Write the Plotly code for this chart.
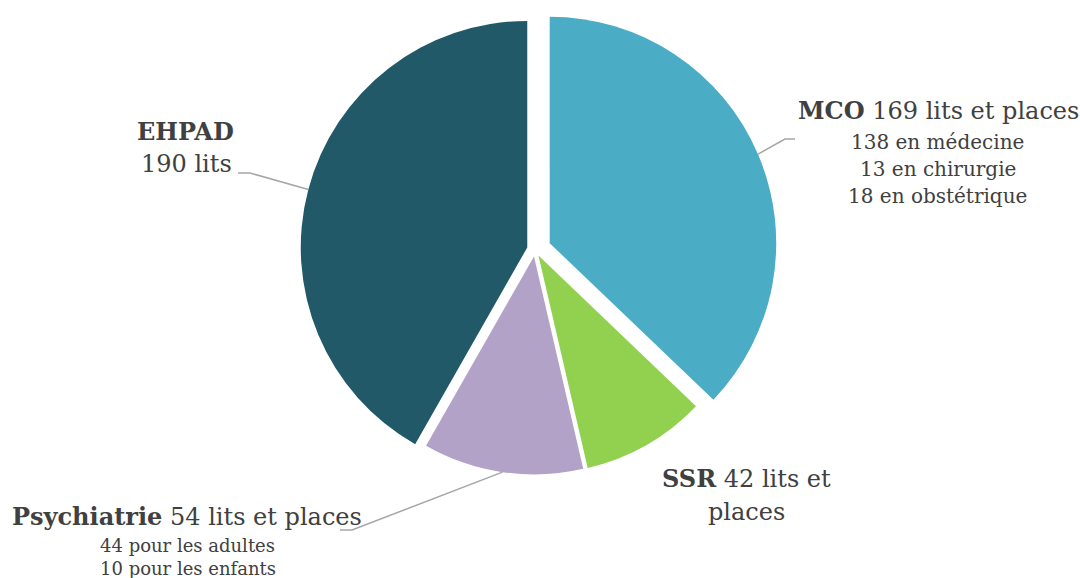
import math
import plotly.graph_objects as go

# ---------------- data ----------------
categories = ["MCO", "SSR", "Psychiatrie", "EHPAD"]
beds = [169, 42, 54, 190]
units = ["lits et places", "lits et places", "lits et places", "lits"]
mco_detail_values = [138, 13, 18]
mco_detail_labels = ["en médecine", "en chirurgie", "en obstétrique"]
psy_detail_values = [44, 10]
psy_detail_labels = ["pour les adultes", "pour les enfants"]

# ---------------- style / layout ----------------
colors = ["#4BACC6", "#92D050", "#B3A2C7", "#215968"]
W, H = 1080, 578
CX, CY = 535.0, 249.5
radius_px = [226.5, 218.0, 218.0, 226.5]
pull_px = [16, 7, 7, 8]
TEXT = "#404040"
FONT = "DejaVu Serif"
LINE = "#A6A6A6"

total = sum(beds)
mids = []
acc = 0
for v in beds:
    mids.append((acc + v / 2) / total * 2 * math.pi)
    acc += v

fig = go.Figure()
groups = [[0, 3], [1, 2]]
for g in groups:
    R = radius_px[g[0]]
    pulls = [pull_px[i] / R if i in g else 0 for i in range(len(beds))]
    cols = [colors[i] if i in g else "rgba(0,0,0,0)" for i in range(len(beds))]
    half = R * (1 + max(pulls))
    fig.add_trace(go.Pie(
        labels=categories, values=beds, sort=False, direction="clockwise",
        rotation=0, pull=pulls,
        marker=dict(colors=cols, line=dict(width=0)),
        textinfo="none", hoverinfo="label+value", showlegend=False,
        domain=dict(x=[(CX - half) / W, (CX + half) / W],
                    y=[1 - (CY + half) / H, 1 - (CY - half) / H]),
    ))


def px2paper(x, y):
    return x / W, 1 - y / H


def anchor(i):
    th = mids[i]
    d = pull_px[i] + radius_px[i]
    return CX + d * math.sin(th), CY - d * math.cos(th)


# leader lines (anchor at slice middle, elbow + horizontal tail)
leaders = {0: [(785, 139), (795, 139)], 3: [(250, 173), (238, 173)], 2: [(352, 530), (340, 530)]}
shapes = []
for i, pts in leaders.items():
    ax, ay = anchor(i)
    p = [px2paper(ax, ay)] + [px2paper(x, y) for x, y in pts]
    path = "M {} {}".format(*p[0]) + "".join(" L {} {}".format(*q) for q in p[1:])
    shapes.append(dict(type="path", path=path, xref="paper", yref="paper",
                       line=dict(color=LINE, width=1.5)))

annotations = []


def ann(text, x, y, size):
    px, py = px2paper(x, y)
    annotations.append(dict(text=text, x=px, y=py, xref="paper", yref="paper",
                            xanchor="center", yanchor="middle", showarrow=False,
                            font=dict(family=FONT, size=size, color=TEXT)))


# MCO
ann(f"<b>{categories[0]}</b> {beds[0]} {units[0]}", 938.5, 110, 24)
for k, (v, l) in enumerate(zip(mco_detail_values, mco_detail_labels)):
    ann(f"{v} {l}", 937.5, 142.4 + 27 * k, 20)
# SSR
w = units[1].split(" ")
ann(f"<b>{categories[1]}</b> {beds[1]} {' '.join(w[:2])}", 746, 478.4, 24)
ann(" ".join(w[2:]), 746, 511.7, 24)
# Psychiatrie
ann(f"<b>{categories[2]}</b> {beds[2]} {units[2]}", 187, 516, 24)
for k, (v, l) in enumerate(zip(psy_detail_values, psy_detail_labels)):
    ann(f"{v} {l}", 187.5, 545.5 + 22.6 * k, 18)
# EHPAD
ann(f"<b>{categories[3]}</b>", 185, 131, 24)
ann(f"{beds[3]} {units[3]}", 186.5, 164.4, 24)

fig.update_layout(
    width=W, height=H, margin=dict(l=0, r=0, t=0, b=0),
    paper_bgcolor="white", plot_bgcolor="white",
    shapes=shapes, annotations=annotations, showlegend=False,
)
fig.write_html(
    "out.html",
    config={"displayModeBar": False},
    post_script="document.body.style.margin='0';document.body.style.overflow='hidden';",
)
